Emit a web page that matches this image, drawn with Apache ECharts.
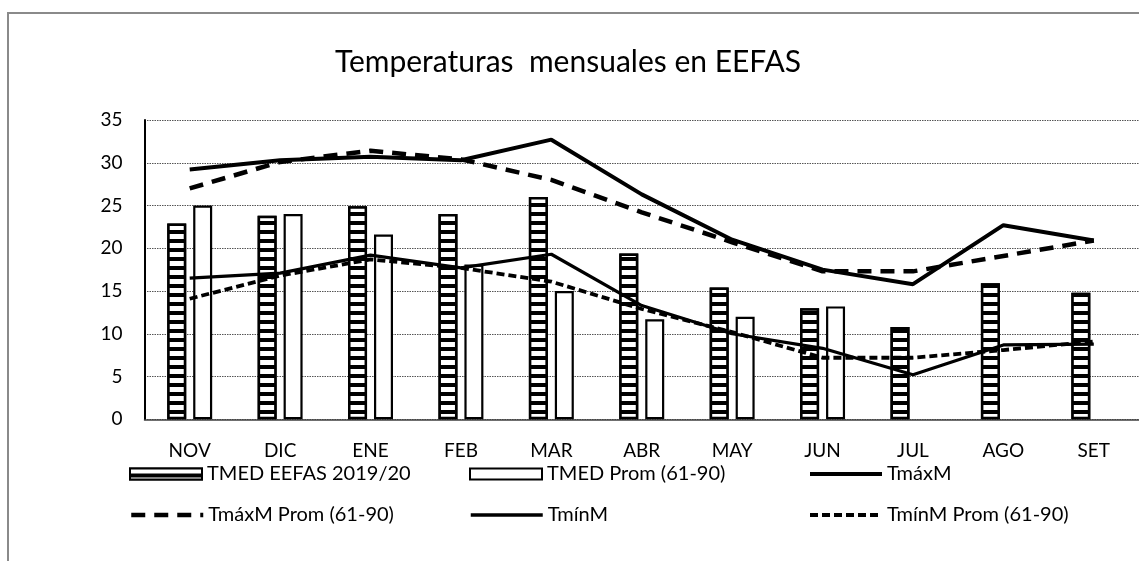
<!DOCTYPE html>
<html>
<head>
<meta charset="utf-8">
<script src="https://cdn.jsdelivr.net/npm/echarts@6/dist/echarts.min.js"></script>
<style>
html,body{margin:0;padding:0;background:#fff;}
#chart{width:1139px;height:561px;}
</style>
</head>
<body>
<div id="chart"></div>
<script>
const categories = ['NOV','DIC','ENE','FEB','MAR','ABR','MAY','JUN','JUL','AGO','SET'];
const tmedEefas = [22.9, 23.8, 24.9, 24.0, 26.0, 19.4, 15.4, 13.0, 10.8, 15.9, 14.8];
const tmedProm  = [25.0, 24.0, 21.6, 18.1, 15.0, 11.7, 12.0, 13.2, null, null, null];
const tmaxM     = [29.2, 30.3, 30.7, 30.3, 32.7, 26.3, 21.0, 17.5, 15.8, 22.7, 20.9];
const tmaxProm  = [27.0, 30.1, 31.4, 30.4, 28.0, 24.2, 20.7, 17.3, 17.3, 19.1, 20.9];
const tminM     = [16.5, 17.1, 19.2, 17.7, 19.3, 13.3, 10.0, 8.3, 5.2, 8.7, 8.8];
const tminProm  = [14.1, 16.8, 18.7, 17.7, 16.1, 12.9, 10.2, 7.2, 7.2, 8.1, 9.1];
const yTicks = [0, 35, 5];
const names = ['TMED EEFAS 2019/20','TMED Prom (61-90)','TmáxM','TmáxM Prom (61-90)','TmínM','TmínM Prom (61-90)'];
const titleText = 'Temperaturas  mensuales en EEFAS';

const FONT = 'Lato';
const chart = echarts.init(document.getElementById('chart'), null, {renderer:'canvas'});

function leg(name, left, top, lineW, dash) {
  const l = {
    data: [name], left: left, top: top, padding: 0,
    itemWidth: 72, itemHeight: 11,
    textStyle: {fontFamily: FONT, fontSize: 20, color: '#000'},
    selectedMode: false
  };
  if (lineW) {
    l.itemStyle = {opacity: 0};
    l.lineStyle = {width: lineW, color: '#000', type: dash};
  } else {
    l.icon = 'rect';
  }
  return l;
}

const option = {
  animation: false,
  backgroundColor: '#fff',
  title: {
    text: titleText, left: 563, top: 42, textAlign: 'center',
    textStyle: {fontFamily: FONT, fontSize: 30, fontWeight: 'normal', color: '#000'}
  },
  graphic: [{
    type: 'rect', silent: true,
    shape: {x: 8, y: 13, width: 1300, height: 700},
    style: {fill: 'none', stroke: '#8a8a8a', lineWidth: 2}
  }],
  legend: [
    leg(names[0], 129, 464),
    leg(names[1], 469, 464),
    leg(names[2], 808, 464, 4, 'solid'),
    leg(names[3], 129, 505, 4.5, [14, 9]),
    leg(names[4], 469, 505, 3.5, 'solid'),
    leg(names[5], 808, 505, 4, [8, 4])
  ],
  grid: {left: 144.5, top: 120, width: 1008.3, height: 299.3, containLabel: false},
  xAxis: {
    type: 'category', data: categories,
    axisLine: {show: true, lineStyle: {color: '#404040', width: 1.5}},
    axisTick: {show: false},
    axisLabel: {fontFamily: FONT, fontSize: 19, color: '#000', margin: 22},
    splitLine: {show: false}
  },
  yAxis: {
    type: 'value', min: yTicks[0], max: yTicks[1], interval: yTicks[2],
    axisLine: {show: true, lineStyle: {color: '#000', width: 2}},
    axisTick: {show: false},
    axisLabel: {fontFamily: FONT, fontSize: 19, color: '#000', margin: 22},
    splitLine: {show: true, lineStyle: {color: '#555', width: 1, type: [1.5, 1]}}
  },
  series: [
    {
      name: names[0], type: 'bar', data: tmedEefas, barWidth: 19, barGap: '36.6%',
      itemStyle: {
        color: '#000', borderColor: '#000', borderWidth: 2.5,
        decal: {symbol: 'rect', symbolSize: 1, color: '#fff', dashArrayX: [1, 0], dashArrayY: [5, 3.5], rotation: 0}
      }
    },
    {
      name: names[1], type: 'bar', data: tmedProm, barWidth: 19,
      itemStyle: {color: '#fff', borderColor: '#000', borderWidth: 2.2}
    },
    {
      name: names[2], type: 'line', data: tmaxM, symbol: 'none', z: 5,
      lineStyle: {color: '#000', width: 4, type: 'solid'}, itemStyle: {color: '#000'}
    },
    {
      name: names[3], type: 'line', data: tmaxProm, symbol: 'none', z: 5,
      lineStyle: {color: '#000', width: 4.5, type: [14, 9]}, itemStyle: {color: '#000'}
    },
    {
      name: names[4], type: 'line', data: tminM, symbol: 'none', z: 5,
      lineStyle: {color: '#000', width: 3.2, type: 'solid'}, itemStyle: {color: '#000'}
    },
    {
      name: names[5], type: 'line', data: tminProm, symbol: 'none', z: 5,
      lineStyle: {color: '#000', width: 3.8, type: [8, 4]}, itemStyle: {color: '#000'}
    }
  ]
};
chart.setOption(option);
</script>
</body>
</html>
